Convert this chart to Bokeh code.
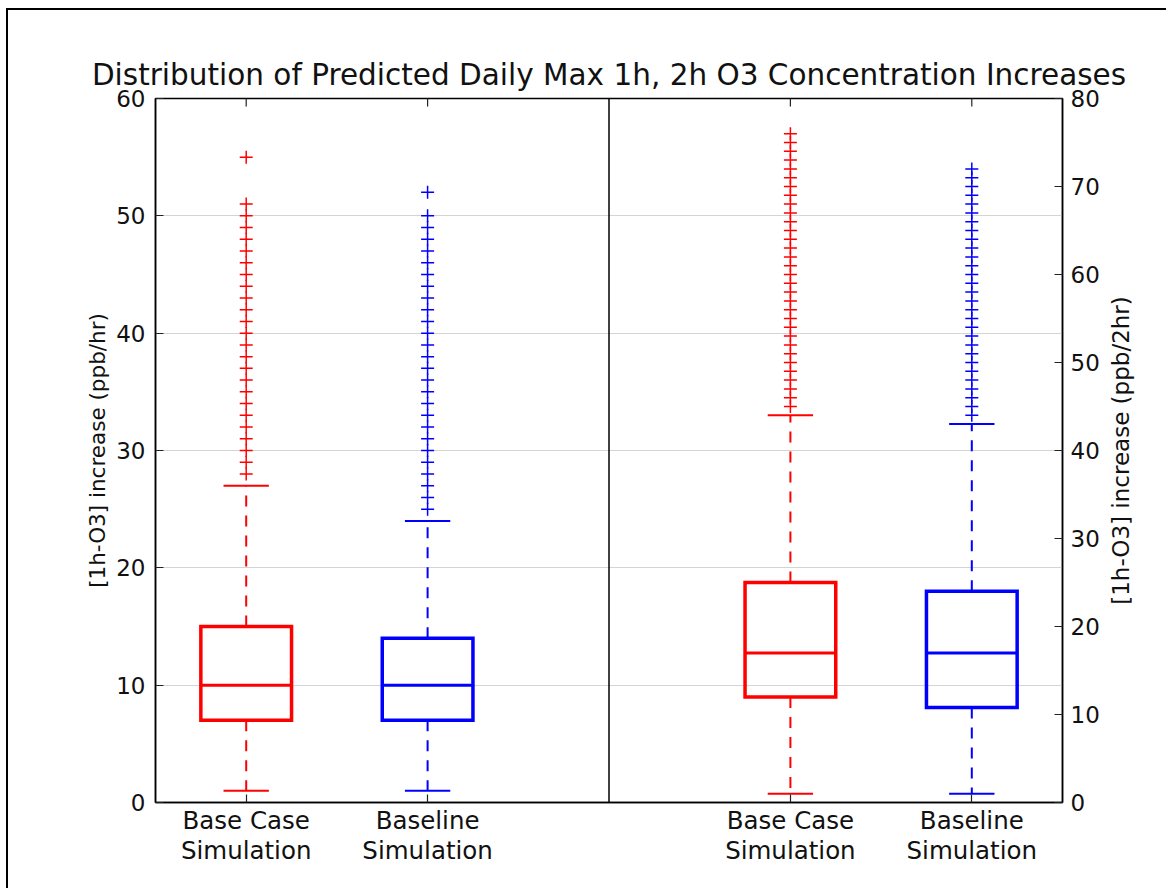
import math
from bokeh.plotting import figure
from bokeh.layouts import row
from bokeh.models import Range1d, LinearAxis, FixedTicker, Span
from bokeh.core.properties import value
from bokeh.embed import file_html
from bokeh.resources import INLINE

# ---------------- data ----------------
title_text = "Distribution of Predicted Daily Max 1h, 2h O3 Concentration Increases"
categories = ["Base Case\nSimulation", "Baseline\nSimulation"]
series_colors = ["#ff0000", "#0000ff"]
box_positions = [1, 2]

left_label = "[1h-O3] increase (ppb/hr)"
right_label = "[1h-O3] increase (ppb/2hr)"
left_ticks = [0, 10, 20, 30, 40, 50, 60]
right_ticks = [0, 10, 20, 30, 40, 50, 60, 70, 80]

# 1-hour panel (left axis)
h1_whisker_low = [1, 1]
h1_q1 = [7, 7]
h1_median = [10, 10]
h1_q3 = [15, 14]
h1_whisker_high = [27, 24]
h1_fliers_base = [28, 29, 30, 31, 32, 33, 34, 35, 36, 37, 38, 39, 40, 41, 42, 43,
                  44, 45, 46, 47, 48, 49, 50, 51, 55]
h1_fliers_baseline = [25, 26, 27, 28, 29, 30, 31, 32, 33, 34, 35, 36, 37, 38, 39, 40,
                      41, 42, 43, 44, 45, 46, 47, 48, 49, 50, 52]

# 2-hour panel (right axis)
h2_whisker_low = [1, 1]
h2_q1 = [12, 10.8]
h2_median = [17, 17]
h2_q3 = [25, 24]
h2_whisker_high = [44, 43]
h2_fliers_base = [45, 46, 47, 48, 49, 50, 51, 52, 53, 54, 55, 56, 57, 58, 59, 60,
                  61, 62, 63, 64, 65, 66, 67, 68, 69, 70, 71, 72, 73, 74, 75, 76]
h2_fliers_baseline = [44, 45, 46, 47, 48, 49, 50, 51, 52, 53, 54, 55, 56, 57, 58, 59,
                      60, 61, 62, 63, 64, 65, 66, 67, 68, 69, 70, 71, 72]

# ---------------- layout ----------------
FONT = "DejaVu Sans"
left_xlim = (0.5, 3.0)
right_xlim = (0.0, 2.5)
left_span = left_xlim[1] - left_xlim[0]
right_span = right_xlim[1] - right_xlim[0]
split = left_span
x_total = left_span + right_span

def left_x(pos):
    return pos - left_xlim[0]

def right_x(pos):
    return split + pos - right_xlim[0]

W, H = 1128, 878
TOP, BOTTOM, LEFT, RIGHT = 88, 86, 147, 74

p = figure(width=W, height=H,
           x_range=Range1d(0, x_total), y_range=Range1d(left_ticks[0], left_ticks[-1]),
           output_backend="svg", toolbar_location=None,
           min_border_left=LEFT, min_border_right=RIGHT,
           min_border_top=TOP, min_border_bottom=BOTTOM)
p.extra_y_ranges = {"r": Range1d(right_ticks[0], right_ticks[-1])}
p.background_fill_color = "white"
p.border_fill_color = "white"
p.outline_line_color = "#000000"
p.outline_line_width = 1.5

p.title.text = title_text
p.title.text_font = FONT
p.title.text_font_size = "29.5px"
p.title.text_font_style = "normal"
p.title.text_color = "#111111"
p.title.align = "center"
p.title.standoff = 14

p.xgrid.visible = False
p.ygrid.ticker = FixedTicker(ticks=left_ticks[1:-1])
p.ygrid.grid_line_color = "#d4d4d4"
p.ygrid.grid_line_width = 1

tick_xs = [left_x(b) for b in box_positions] + [right_x(b) for b in box_positions]
overrides = {}
for i, b in enumerate(box_positions):
    overrides[left_x(b)] = categories[i]
    overrides[right_x(b)] = categories[i]

def style_axis(ax):
    ax.major_tick_in = 8
    ax.major_tick_out = 0
    ax.minor_tick_in = 0
    ax.minor_tick_out = 0
    ax.major_tick_line_color = "#222222"
    ax.major_tick_line_width = 1.2
    ax.axis_line_color = "#000000"
    ax.axis_line_width = 1.5
    ax.major_label_text_font = FONT
    ax.major_label_text_font_size = "23px"
    ax.major_label_text_color = "#111111"
    ax.axis_label_text_font = FONT
    ax.axis_label_text_font_size = "21.5px"
    ax.axis_label_text_font_style = "normal"
    ax.axis_label_text_color = "#111111"

# bottom axis
xa = p.xaxis[0]
style_axis(xa)
xa.ticker = FixedTicker(ticks=tick_xs)
xa.major_label_overrides = overrides
xa.major_label_standoff = 3
xa.major_label_text_font_size = "24.5px"
xa.major_label_text_line_height = 1.06

# left axis
ya = p.yaxis[0]
style_axis(ya)
ya.ticker = FixedTicker(ticks=left_ticks)
ya.major_label_standoff = 10
ya.axis_label = left_label
ya.axis_label_standoff = 3

# right axis
ra = LinearAxis(y_range_name="r")
style_axis(ra)
ra.ticker = FixedTicker(ticks=right_ticks)
ra.major_label_standoff = 8
p.add_layout(ra, "right")

# top tick marks (inward), matching box positions
p.scatter(x=tick_xs, y=[left_ticks[-1]] * len(tick_xs), marker="dash", angle=math.pi / 2,
          size=16, line_color="#222222", line_width=1.2)

# panel divider
p.add_layout(Span(location=split, dimension="height", line_color="#000000", line_width=1.5))

BOX_W = 0.5
CAP_W = 0.25

def draw_box(xc, lo, q1, med, q3, hi, fliers, color, rname):
    kw = {} if rname is None else {"y_range_name": rname}
    p.segment(x0=[xc, xc], y0=[q3, q1], x1=[xc, xc], y1=[hi, lo],
              line_color=color, line_width=2, line_dash="11 9", **kw)
    p.segment(x0=[xc - CAP_W / 2] * 2, y0=[hi, lo], x1=[xc + CAP_W / 2] * 2, y1=[hi, lo],
              line_color=color, line_width=2, **kw)
    p.quad(left=[xc - BOX_W / 2], right=[xc + BOX_W / 2], bottom=[q1], top=[q3],
           fill_color=None, line_color=color, line_width=3.5, line_join="miter", **kw)
    p.segment(x0=[xc - BOX_W / 2], y0=[med], x1=[xc + BOX_W / 2], y1=[med],
              line_color=color, line_width=3, **kw)
    p.scatter(x=[xc] * len(fliers), y=fliers, marker="cross", size=13,
              line_color=color, line_width=1.5, **kw)

h1_fliers = [h1_fliers_base, h1_fliers_baseline]
h2_fliers = [h2_fliers_base, h2_fliers_baseline]
for i, b in enumerate(box_positions):
    draw_box(left_x(b), h1_whisker_low[i], h1_q1[i], h1_median[i], h1_q3[i],
             h1_whisker_high[i], h1_fliers[i], series_colors[i], None)
    draw_box(right_x(b), h2_whisker_low[i], h2_q1[i], h2_median[i], h2_q3[i],
             h2_whisker_high[i], h2_fliers[i], series_colors[i], "r")

# transparent strip holding the right-axis label (reads bottom-to-top,
# centred on the plot frame); shifted visually next to the right tick labels
STRIP_W = 30
p2 = figure(width=STRIP_W, height=H, x_range=Range1d(0, 1), y_range=Range1d(0, 1),
            output_backend="svg", toolbar_location=None,
            x_axis_location=None, y_axis_location=None,
            min_border_left=0, min_border_right=0,
            min_border_top=TOP, min_border_bottom=BOTTOM)
p2.styles = {"transform": "translateX(-31px)"}
p2.outline_line_color = None
p2.background_fill_color = None
p2.border_fill_color = None
p2.grid.visible = False
p2.text(x=[0.5], y=[0.5], text=[right_label], angle=math.pi / 2,
        text_align="center", text_baseline="middle",
        text_font=value(FONT), text_font_size=value("23px"), text_color="#111111")

layout = row(p, p2, spacing=0)
layout.margin = (8, 0, 0, 6)
layout.styles = {"border-top": "2px solid #000", "border-left": "2px solid #000"}
open("out.html", "w").write(file_html(layout, INLINE))
